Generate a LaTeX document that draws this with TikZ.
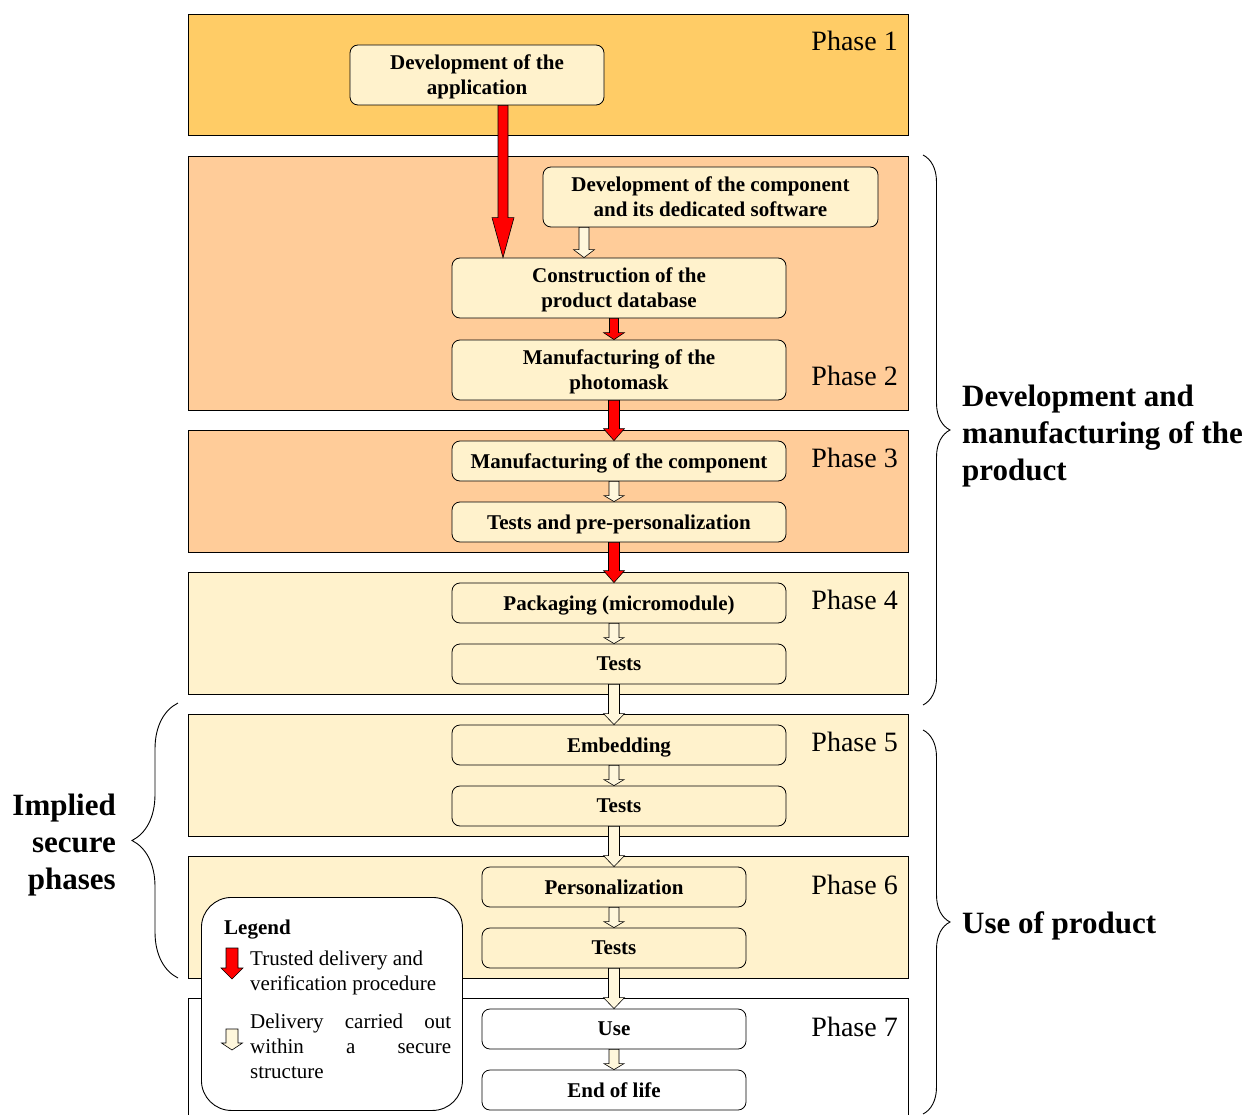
\documentclass[tikz,border=0pt]{standalone}
\usepackage{fontspec}
\setmainfont{Liberation Serif}
\usetikzlibrary{calc,decorations.pathreplacing}

\definecolor{phaseorange}{HTML}{FFCC66}
\definecolor{phasepeach}{HTML}{FFCC99}
\definecolor{phasecream}{HTML}{FFF2CC}
\definecolor{arrowcream}{HTML}{FFF7DC}

\newcommand{\blockarrow}[6]{%
  \path[#1] let \p1=(#2), \p2=(#3) in
    (\x1-#4,\y1) -- (\x1-#4,\y2+#6) -- (\x1-#5,\y2+#6) -- (\x1,\y2)
    -- (\x1+#5,\y2+#6) -- (\x1+#4,\y2+#6) -- (\x1+#4,\y1) -- cycle;}

\tikzset{
  phasebox/.style={draw, line width=0.9pt, minimum width=720pt, inner sep=0pt, anchor=north west},
  phaselabel/.style={font=\fontsize{28}{34}\selectfont, anchor=base east, inner sep=0pt},
  stepbox/.style={draw, line width=0.8pt, rounded corners=8pt, fill=phasecream,
    font=\fontsize{21}{25}\selectfont\bfseries, align=center, inner sep=0pt, minimum width=334pt,
    text depth=0pt},
  trusted/.style={fill=red, draw=black, line width=0.6pt, line join=miter},
  secure/.style={fill=arrowcream, draw=black, line width=0.6pt, line join=miter},
  bigtext/.style={font=\fontsize{31}{37}\selectfont\bfseries, inner sep=0pt},
  bracket/.style={draw, line width=0.9pt, decorate}
}

\begin{document}
\begin{tikzpicture}[x=1pt, y=-1pt]
  \useasboundingbox (0,0) rectangle (1255,1115);

  \begin{scope}[every node/.style={phasebox}]
    \node (ph1) [fill=phaseorange, minimum height=121pt] at (188,14)  {};
    \node (ph2) [fill=phasepeach,  minimum height=254pt] at (188,156) {};
    \node (ph3) [fill=phasepeach,  minimum height=122pt] at (188,430) {};
    \node (ph4) [fill=phasecream,  minimum height=122pt] at (188,572) {};
    \node (ph5) [fill=phasecream,  minimum height=122pt] at (188,714) {};
    \node (ph6) [fill=phasecream,  minimum height=122pt] at (188,856) {};
    \node (ph7) [fill=white,       minimum height=130pt] at (188,998) {};
  \end{scope}

  \begin{scope}[every node/.style={phaselabel}]
    \node (lab1) at (898,51)   {Phase 1};
    \node (lab2) at (898,385)  {Phase 2};
    \node (lab3) at (898,467)  {Phase 3};
    \node (lab4) at (898,609)  {Phase 4};
    \node (lab5) at (898,751)  {Phase 5};
    \node (lab6) at (898,894)  {Phase 6};
    \node (lab7) at (898,1036) {Phase 7};
  \end{scope}

  \begin{scope}[every node/.style={stepbox}]
    \node (app)     [minimum width=254pt, minimum height=60pt] at (477,75)    {Development of the\\application};
    \node (comp)    [minimum width=335pt, minimum height=60pt] at (710.5,197) {Development of the component\\and its dedicated software};
    \node (cons)    [minimum height=60pt] at (619,288) {Construction of the\\product database};
    \node (mask)    [minimum height=60pt] at (619,370) {Manufacturing of the\\photomask};
    \node (manuf)   [minimum height=40pt] at (619,461) {Manufacturing of the component};
    \node (pretest) [minimum height=40pt] at (619,522) {Tests and pre-personalization};
    \node (pack)    [minimum height=40pt] at (619,603) {Packaging (micromodule)};
    \node (test4)   [minimum height=40pt] at (619,664) {Tests};
    \node (embed)   [minimum height=40pt] at (619,745) {Embedding};
    \node (test5)   [minimum height=40pt] at (619,806) {Tests};
    \node (pers)    [minimum width=264pt, minimum height=40pt] at (614,887)  {Personalization};
    \node (test6)   [minimum width=264pt, minimum height=40pt] at (614,948)  {Tests};
    \node (use)     [minimum width=264pt, minimum height=40pt, fill=white] at (614,1029) {Use};
    \node (eol)     [minimum width=264pt, minimum height=40pt, fill=white] at (614,1090) {End of life};
  \end{scope}

  \blockarrow{trusted}{[xshift=26pt]app.south}{cons.north}{5pt}{11pt}{40pt}
  \blockarrow{secure}{[xshift=-126.5pt]comp.south}{cons.north}{5pt}{10.5pt}{8pt}
  \blockarrow{trusted}{[xshift=-5pt]cons.south}{mask.north}{4.5pt}{10.5pt}{7pt}
  \blockarrow{trusted}{[xshift=-5pt]mask.south}{manuf.north}{5.5pt}{10.5pt}{12pt}
  \blockarrow{secure}{[xshift=-5pt]manuf.south}{pretest.north}{5pt}{10pt}{6pt}
  \blockarrow{trusted}{[xshift=-5pt]pretest.south}{pack.north}{5.5pt}{10.5pt}{12pt}
  \blockarrow{secure}{[xshift=-5pt]pack.south}{test4.north}{5pt}{10pt}{6pt}
  \blockarrow{secure}{[xshift=-5pt]test4.south}{embed.north}{5.5pt}{10.5pt}{11pt}
  \blockarrow{secure}{[xshift=-5pt]embed.south}{test5.north}{5pt}{10pt}{6pt}
  \blockarrow{secure}{[xshift=-5pt]test5.south}{pers.north}{5.5pt}{10.5pt}{11pt}
  \blockarrow{secure}{pers.south}{test6.north}{5pt}{10pt}{6pt}
  \blockarrow{secure}{test6.south}{use.north}{5.5pt}{10.5pt}{11pt}
  \blockarrow{secure}{use.south}{eol.north}{5pt}{10pt}{6pt}

  \node (legend) [draw, fill=white, line width=0.9pt, rounded corners=30pt, minimum width=261pt,
    minimum height=213pt, inner sep=0pt, anchor=north west] at (201,897) {};
  \node (legtitle) [font=\fontsize{21}{25}\selectfont\bfseries, anchor=base west, inner sep=0pt] at (224,934) {Legend};
  \coordinate (keyA) at (232,948);
  \coordinate (keyB) at (232,979);
  \coordinate (keyC) at (232,1029);
  \coordinate (keyD) at (232,1050);
  \blockarrow{trusted}{keyA}{keyB}{6pt}{11pt}{11pt}
  \blockarrow{secure}{keyC}{keyD}{6pt}{10.5pt}{7pt}
  \node (keytrust) [font=\fontsize{21}{25}\selectfont, align=left, anchor=north west, inner sep=0pt]
    at (250,951) {Trusted delivery and\\verification procedure};
  \node (keysecure) [font=\fontsize{21}{25}\selectfont, text width=201pt, align=justify, anchor=north west, inner sep=0pt]
    at (250,1014) {\hbadness=10000 \hyphenpenalty=10000 \noindent Delivery carried out\linebreak within a secure\linebreak structure\par};

  \coordinate (devtop) at (923,155);
  \coordinate (devbot) at (923,705);
  \coordinate (usetop) at (923,730);
  \coordinate (usebot) at (923,1114);
  \coordinate (imptop) at (178,703);
  \coordinate (impbot) at (178,978);
  \path[bracket, decoration={brace, amplitude=27pt}] (devtop) -- (devbot);
  \path[bracket, decoration={brace, amplitude=27pt}] (usetop) -- (usebot);
  \path[bracket, decoration={brace, amplitude=46pt}] (impbot) -- (imptop);

  \node (devlabel) [bigtext, align=left, anchor=west] at (962,436) {Development and\\manufacturing of the\\product};
  \node (uselabel) [bigtext, anchor=base west] at (962,933) {Use of product};
  \node (implabel) [bigtext, align=right, anchor=east] at (116,845) {Implied\\secure\\phases};
\end{tikzpicture}
\end{document}
